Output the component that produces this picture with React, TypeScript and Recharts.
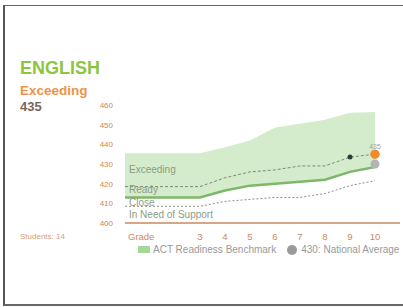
import React from "react";
import { ComposedChart, Area, Line, XAxis, YAxis, ReferenceDot } from "recharts";

// grade 0 stands in for the flat lead-in before grade 3 (the "Grade" label spot)
const grades = [0, 3, 4, 5, 6, 7, 8, 9, 10];
const benchmarkHigh = [435.5, 435.5, 438.5, 442, 448.5, 450.5, 452.5, 456, 456.5];
const benchmarkLow = [413, 413, 416.5, 419, 420, 421, 422, 426, 428.5];
const exceedingLine = [418.5, 418.5, 423, 426, 427, 429, 429, 433.5, 435];
const closeLine = [408.5, 408.5, 411, 412, 413, 413, 415, 419, 421.5];
const yTicks = [400, 410, 420, 430, 440, 450, 460];
const xTicks = [0, 3, 4, 5, 6, 7, 8, 9, 10];
const nationalAverage = 430;
const studentScore = 435;

const data = grades.map((g, i) => ({
  grade: g,
  band: [benchmarkLow[i], benchmarkHigh[i]],
  low: benchmarkLow[i],
  exceed: exceedingLine[i],
  close: closeLine[i],
}));

const AXIS = "#c98a5e";
const TXT = "#8c9c84";
const FONT = "Liberation Sans, Arial, sans-serif";

const GradeTick = (props: any) => {
  const { x, y, payload } = props;
  const isGrade = payload.value === 0;
  return (
    <text
      x={isGrade ? x + 3 : x}
      y={y + 9}
      textAnchor={isGrade ? "start" : "middle"}
      fontSize={9.5}
      fill={AXIS}
      fontFamily={FONT}
    >
      {isGrade ? "Grade" : payload.value}
    </text>
  );
};

const ExceedDot = (props: any) => {
  const { cx, cy, index } = props;
  if (index === grades.length - 2) {
    return <circle key={index} cx={cx} cy={cy} r={2.5} fill="#2f3b3a" />;
  }
  if (index === grades.length - 1) {
    return (
      <g key={index}>
        <text x={cx} y={cy - 5} textAnchor="middle" fontSize={7} fill="#b0a090" fontFamily={FONT}>
          {studentScore}
        </text>
        <circle cx={cx} cy={cy} r={4.5} fill="#f08a2c" />
      </g>
    );
  }
  return <g key={index} />;
};

const zoneLabel = (top: number, text: string) => (
  <div
    style={{
      position: "absolute",
      left: 129,
      top,
      fontSize: 10,
      color: TXT,
      fontFamily: FONT,
      whiteSpace: "nowrap",
    }}
  >
    {text}
  </div>
);

export default function App() {
  return (
    <div style={{ position: "absolute", left: 0, top: 0, width: 403, height: 307, background: "#fff", overflow: "hidden" }}>
      <div
        style={{
          position: "absolute",
          left: 3,
          top: 5,
          width: 410,
          height: 298,
          borderLeft: "2px solid #555",
          borderTop: "1.5px solid #666",
          borderBottom: "2px solid #666",
        }}
      />
      <div style={{ position: "absolute", left: 20, top: 57, fontFamily: FONT, fontWeight: "bold" }}>
        <div style={{ fontSize: 18, color: "#8cc63e", lineHeight: "22px" }}>ENGLISH</div>
        <div style={{ fontSize: 13.5, color: "#f0934a", lineHeight: "16px", marginTop: 4 }}>Exceeding</div>
        <div style={{ fontSize: 13, color: "#7a6656", lineHeight: "16px" }}>435</div>
      </div>
      <div style={{ position: "absolute", left: 20, top: 232, fontSize: 8, color: "#d9a070", fontFamily: FONT }}>
        Students: 14
      </div>

      <div style={{ position: "absolute", left: 0, top: 0 }}>
        <ComposedChart width={403} height={307} data={data} margin={{ top: 105, right: 3, bottom: 68, left: 0 }}>
          <XAxis
            dataKey="grade"
            type="number"
            domain={[0, 11]}
            ticks={xTicks}
            tick={<GradeTick />}
            tickLine={false}
            axisLine={{ stroke: AXIS, strokeWidth: 1.5 }}
            height={16}
            interval={0}
          />
          <YAxis
            type="number"
            domain={[400, 460]}
            ticks={yTicks}
            width={125}
            tickLine={false}
            axisLine={false}
            tickMargin={6}
            tick={{ fontSize: 8, fill: AXIS, fontFamily: FONT }}
          />
          <Area
            dataKey="band"
            type="linear"
            stroke="none"
            fill="#d4eccb"
            fillOpacity={1}
            isAnimationActive={false}
          />
          <Line dataKey="low" type="linear" stroke="#7db86a" strokeWidth={2.5} dot={false} isAnimationActive={false} />
          <Line dataKey="close" type="linear" stroke="#8a8f88" strokeWidth={1} strokeDasharray="2 2" dot={false} isAnimationActive={false} />
          <Line
            dataKey="exceed"
            type="linear"
            stroke="#7f8a7c"
            strokeWidth={1}
            strokeDasharray="3 2"
            dot={<ExceedDot />}
            isAnimationActive={false}
          />
          <ReferenceDot x={10} y={nationalAverage} r={4.5} fill="#b4b4b4" stroke="none" />
          <ReferenceDot x={10} y={studentScore} r={4.5} fill="#f08a2c" stroke="none" />
        </ComposedChart>
      </div>

      {zoneLabel(164, "Exceeding")}
      {zoneLabel(184, "Ready")}
      {zoneLabel(197, "Close")}
      {zoneLabel(209, "In Need of Support")}

      <div
        style={{
          position: "absolute",
          left: 138,
          top: 244,
          display: "flex",
          alignItems: "center",
          fontSize: 10,
          color: "#9a9a9a",
          fontFamily: FONT,
          whiteSpace: "nowrap",
        }}
      >
        <span style={{ display: "inline-block", width: 12, height: 7, background: "#a9d69a", marginRight: 3 }} />
        <span>ACT Readiness Benchmark</span>
        <span style={{ display: "inline-block", width: 10, height: 10, borderRadius: 5, background: "#9a9a9a", marginLeft: 11, marginRight: 4 }} />
        <span>430: National Average</span>
      </div>
    </div>
  );
}
